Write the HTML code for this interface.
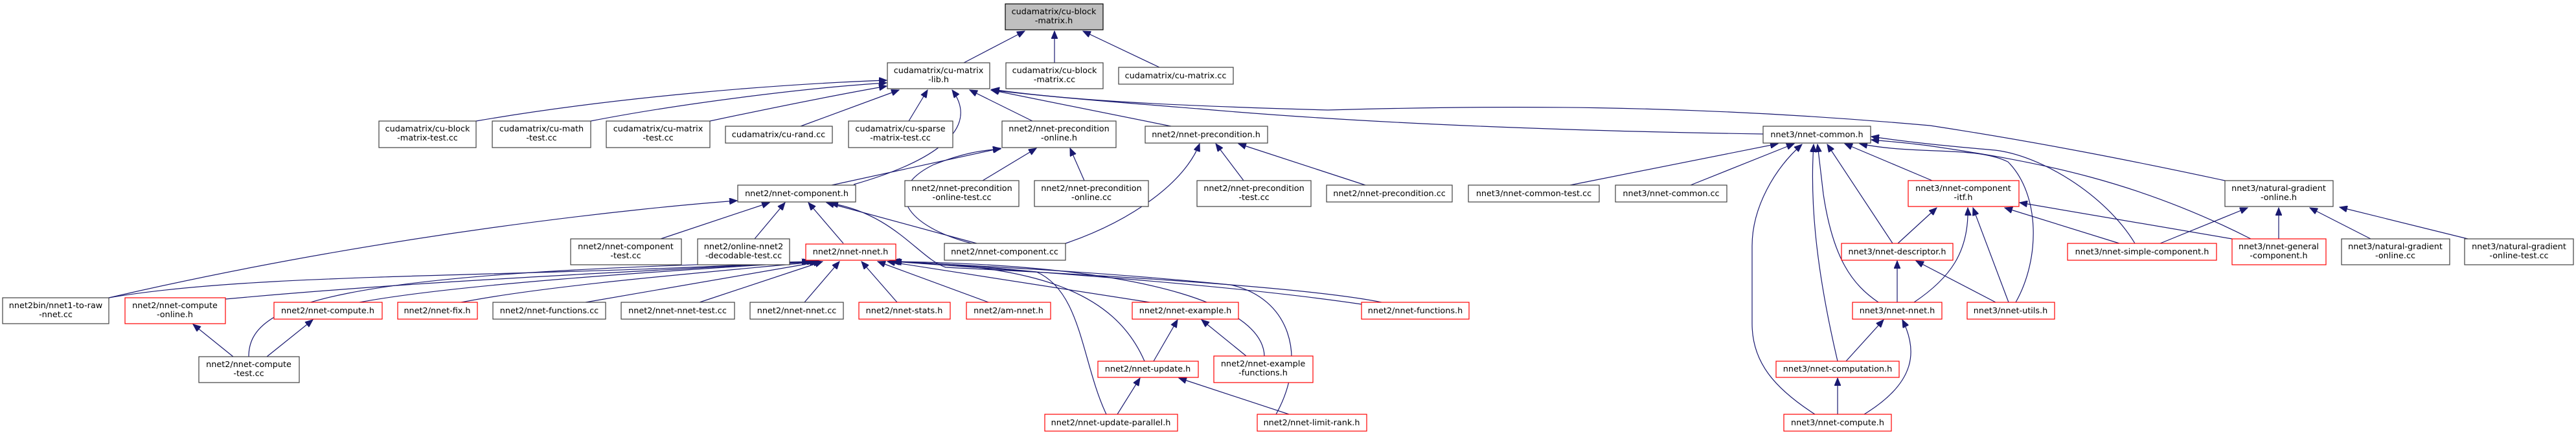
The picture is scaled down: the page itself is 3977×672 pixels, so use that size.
<!DOCTYPE html>
<html><head><meta charset="utf-8"><style>
html,body{margin:0;padding:0;background:#fff;}
svg{display:block;}
text{font-family:"DejaVu Sans","Liberation Sans",sans-serif;font-size:12.8px;fill:#000;text-anchor:middle;}
.b{fill:#fff;stroke:#404040;stroke-width:1.2;}
.r{fill:#fff;stroke:#ff0000;stroke-width:1.2;}
.g{fill:#bfbfbf;stroke:#000;stroke-width:1.2;}
path{fill:none;stroke:#191970;stroke-width:1.2;marker-end:url(#a);}
</style></head><body>
<svg width="3977" height="672" viewBox="0 0 3977 672" xmlns="http://www.w3.org/2000/svg">
<defs><marker id="a" markerUnits="userSpaceOnUse" markerWidth="13" markerHeight="10" refX="12" refY="5" orient="auto"><polygon points="0,0 12,5 0,10" fill="#191970" stroke="#191970"/></marker></defs>

<!-- edges -->
<path d="M1488,97 L1582,48"/>
<path d="M1628,97 L1628,48"/>
<path d="M1790,104 L1672,48"/>
<path d="M735,187 C950,150 1200,130 1369,124"/>
<path d="M912,187 C1050,160 1250,135 1369,128"/>
<path d="M1096,187 C1200,165 1300,145 1369,133"/>
<path d="M1236,195 L1388,139"/>
<path d="M1403,187 L1432,139"/>
<path d="M1318,285 C1440,250 1515,200 1470,139"/>
<path d="M1594,187 L1497,139"/>
<path d="M1808,195 L1530,139"/>
<path d="M2722,207 C2400,202 2100,190 1850,168 C1750,160 1620,150 1530,139"/>
<path d="M3435,279 C3300,250 3150,220 2980,194 C2600,160 2300,163 2050,170 C1800,163 1650,155 1531,138"/>
<path d="M168,460 C600,360 1000,320 1138,310"/>
<path d="M1020,369 L1188,313"/>
<path d="M1165,369 L1212,313"/>
<path d="M1302,376 L1248,313"/>
<path d="M1508,376 L1276,313"/>
<path d="M1284,286 L1545,229"/>
<path d="M1500,376 C1400,350 1360,295 1440,255 C1490,235 1520,232 1545,230"/>
<path d="M1645,376 C1750,340 1830,280 1852,222"/>
<path d="M1517,279 L1600,229"/>
<path d="M1674,279 L1652,229"/>
<path d="M1920,279 L1877,222"/>
<path d="M2108,286 L1912,222"/>
<path d="M2133,467 C2000,440 1600,420 1460,413 C1420,400 1380,330 1282,314"/>
<path d="M168,460 C400,420 800,430 1250,404"/>
<path d="M348,462 C700,430 1000,420 1252,404"/>
<path d="M384,551 C384,470 500,420 1258,404"/>
<path d="M555,467 C700,440 1000,420 1262,404"/>
<path d="M712,467 C850,440 1100,420 1265,404"/>
<path d="M904,467 L1268,404"/>
<path d="M1080,467 L1270,404"/>
<path d="M1242,467 L1296,404"/>
<path d="M1385,467 L1330,404"/>
<path d="M1526,467 L1355,404"/>
<path d="M1775,467 L1370,404"/>
<path d="M1767,558 C1720,450 1600,410 1376,404"/>
<path d="M1708,640 C1670,560 1670,450 1600,420 C1500,410 1420,405 1376,404"/>
<path d="M1952,550 C1950,480 1800,410 1378,404"/>
<path d="M1970,640 C2020,550 1990,460 1900,440 C1700,420 1500,410 1378,404"/>
<path d="M2102,470 C1900,440 1600,420 1380,404"/>
<path d="M360,551 L298,501"/>
<path d="M412,551 L483,494"/>
<path d="M1781,558 L1818,494"/>
<path d="M1924,550 L1855,494"/>
<path d="M1725,640 L1760,584"/>
<path d="M1990,640 L1820,584"/>
<path d="M2424,286 L2745,222"/>
<path d="M2610,286 L2770,222"/>
<path d="M2802,640 C2740,600 2705,560 2705,500 L2705,380 C2705,320 2740,260 2782,223"/>
<path d="M2837,558 C2800,400 2795,300 2800,223"/>
<path d="M2900,467 C2860,440 2830,400 2815,300 L2806,223"/>
<path d="M2922,376 L2821,223"/>
<path d="M2983,279 L2848,222"/>
<path d="M3296,376 C3250,300 3150,240 3080,232 C3000,225 2950,220 2889,211"/>
<path d="M3475,369 C3300,280 3150,250 2977,225 C2940,220 2910,218 2889,216"/>
<path d="M3112,467 C3150,400 3150,300 3100,250 C3050,225 2960,240 2871,222"/>
<path d="M2930,376 L2990,321"/>
<path d="M2955,467 C3010,430 3040,390 3038,321"/>
<path d="M3101,467 L3046,321"/>
<path d="M3272,376 L3095,321"/>
<path d="M3446,369 L3118,313"/>
<path d="M2929,467 L2929,403"/>
<path d="M3081,467 L2958,403"/>
<path d="M2850,558 L2908,494"/>
<path d="M2878,640 C2960,590 2960,540 2937,494"/>
<path d="M2837,640 L2837,584"/>
<path d="M3335,376 L3470,321"/>
<path d="M3518,369 L3518,321"/>
<path d="M3660,369 L3566,321"/>
<path d="M3810,369 L3612,320"/>

<!-- nodes -->
<rect class="g" x="1552" y="6" width="151" height="40"/><text x="1627" y="22">cudamatrix/cu-block</text><text x="1627" y="36">-matrix.h</text>
<rect class="b" x="1370" y="97" width="158" height="40"/><text x="1449" y="113">cudamatrix/cu-matrix</text><text x="1449" y="127">-lib.h</text>
<rect class="b" x="1553" y="97" width="150" height="40"/><text x="1628" y="113">cudamatrix/cu-block</text><text x="1628" y="127">-matrix.cc</text>
<rect class="b" x="1727" y="104" width="177" height="26"/><text x="1815" y="121">cudamatrix/cu-matrix.cc</text>
<rect class="b" x="585" y="187" width="150" height="41"/><text x="660" y="203">cudamatrix/cu-block</text><text x="660" y="217">-matrix-test.cc</text>
<rect class="b" x="760" y="187" width="152" height="41"/><text x="836" y="203">cudamatrix/cu-math</text><text x="836" y="217">-test.cc</text>
<rect class="b" x="936" y="187" width="160" height="41"/><text x="1016" y="203">cudamatrix/cu-matrix</text><text x="1016" y="217">-test.cc</text>
<rect class="b" x="1120" y="195" width="165" height="26"/><text x="1202" y="212">cudamatrix/cu-rand.cc</text>
<rect class="b" x="1310" y="187" width="161" height="41"/><text x="1390" y="203">cudamatrix/cu-sparse</text><text x="1390" y="217">-matrix-test.cc</text>
<rect class="b" x="1547" y="187" width="176" height="41"/><text x="1635" y="203">nnet2/nnet-precondition</text><text x="1635" y="217">-online.h</text>
<rect class="b" x="1768" y="195" width="189" height="26"/><text x="1862" y="212">nnet2/nnet-precondition.h</text>
<rect class="b" x="2722" y="195" width="166" height="26"/><text x="2805" y="212">nnet3/nnet-common.h</text>
<rect class="b" x="1139" y="286" width="182" height="26"/><text x="1230" y="303">nnet2/nnet-component.h</text>
<rect class="b" x="1397" y="279" width="176" height="40"/><text x="1485" y="295">nnet2/nnet-precondition</text><text x="1485" y="309">-online-test.cc</text>
<rect class="b" x="1597" y="279" width="176" height="40"/><text x="1685" y="295">nnet2/nnet-precondition</text><text x="1685" y="309">-online.cc</text>
<rect class="b" x="1848" y="279" width="176" height="40"/><text x="1936" y="295">nnet2/nnet-precondition</text><text x="1936" y="309">-test.cc</text>
<rect class="b" x="2048" y="286" width="194" height="26"/><text x="2145" y="303">nnet2/nnet-precondition.cc</text>
<rect class="b" x="2267" y="286" width="202" height="26"/><text x="2368" y="303">nnet3/nnet-common-test.cc</text>
<rect class="b" x="2494" y="286" width="172" height="26"/><text x="2580" y="303">nnet3/nnet-common.cc</text>
<rect class="r" x="2946" y="279" width="171" height="40"/><text x="3031" y="295">nnet3/nnet-component</text><text x="3031" y="309">-itf.h</text>
<rect class="b" x="3435" y="279" width="167" height="40"/><text x="3518" y="295">nnet3/natural-gradient</text><text x="3518" y="309">-online.h</text>
<rect class="b" x="881" y="369" width="171" height="40"/><text x="966" y="385">nnet2/nnet-component</text><text x="966" y="399">-test.cc</text>
<rect class="b" x="1077" y="369" width="142" height="40"/><text x="1148" y="385">nnet2/online-nnet2</text><text x="1148" y="399">-decodable-test.cc</text>
<rect class="r" x="1244" y="377" width="139" height="25"/><text x="1313" y="393">nnet2/nnet-nnet.h</text>
<rect class="b" x="1458" y="376" width="187" height="26"/><text x="1551" y="393">nnet2/nnet-component.cc</text>
<rect class="r" x="2843" y="376" width="172" height="26"/><text x="2929" y="393">nnet3/nnet-descriptor.h</text>
<rect class="r" x="3192" y="376" width="230" height="26"/><text x="3307" y="393">nnet3/nnet-simple-component.h</text>
<rect class="r" x="3446" y="369" width="145" height="40"/><text x="3518" y="385">nnet3/nnet-general</text><text x="3518" y="399">-component.h</text>
<rect class="b" x="3615" y="369" width="167" height="40"/><text x="3698" y="385">nnet3/natural-gradient</text><text x="3698" y="399">-online.cc</text>
<rect class="b" x="3805" y="369" width="168" height="40"/><text x="3889" y="385">nnet3/natural-gradient</text><text x="3889" y="399">-online-test.cc</text>
<rect class="b" x="4" y="460" width="164" height="40"/><text x="86" y="476">nnet2bin/nnet1-to-raw</text><text x="86" y="490">-nnet.cc</text>
<rect class="r" x="193" y="460" width="155" height="40"/><text x="270" y="476">nnet2/nnet-compute</text><text x="270" y="490">-online.h</text>
<rect class="r" x="423" y="467" width="167" height="26"/><text x="506" y="484">nnet2/nnet-compute.h</text>
<rect class="r" x="614" y="467" width="123" height="26"/><text x="675" y="484">nnet2/nnet-fix.h</text>
<rect class="b" x="761" y="467" width="174" height="26"/><text x="848" y="484">nnet2/nnet-functions.cc</text>
<rect class="b" x="959" y="467" width="175" height="26"/><text x="1046" y="484">nnet2/nnet-nnet-test.cc</text>
<rect class="b" x="1158" y="467" width="144" height="26"/><text x="1230" y="484">nnet2/nnet-nnet.cc</text>
<rect class="r" x="1326" y="467" width="141" height="26"/><text x="1396" y="484">nnet2/nnet-stats.h</text>
<rect class="r" x="1492" y="467" width="130" height="26"/><text x="1557" y="484">nnet2/am-nnet.h</text>
<rect class="r" x="1748" y="467" width="164" height="26"/><text x="1830" y="484">nnet2/nnet-example.h</text>
<rect class="r" x="2102" y="467" width="166" height="26"/><text x="2185" y="484">nnet2/nnet-functions.h</text>
<rect class="r" x="2860" y="467" width="138" height="26"/><text x="2929" y="484">nnet3/nnet-nnet.h</text>
<rect class="r" x="3037" y="467" width="135" height="26"/><text x="3104" y="484">nnet3/nnet-utils.h</text>
<rect class="b" x="307" y="551" width="155" height="40"/><text x="384" y="567">nnet2/nnet-compute</text><text x="384" y="581">-test.cc</text>
<rect class="r" x="1695" y="558" width="155" height="25"/><text x="1772" y="574">nnet2/nnet-update.h</text>
<rect class="r" x="1874" y="550" width="153" height="41"/><text x="1950" y="566">nnet2/nnet-example</text><text x="1950" y="580">-functions.h</text>
<rect class="r" x="2742" y="558" width="190" height="25"/><text x="2837" y="574">nnet3/nnet-computation.h</text>
<rect class="r" x="1613" y="640" width="205" height="26"/><text x="1715" y="657">nnet2/nnet-update-parallel.h</text>
<rect class="r" x="1941" y="640" width="169" height="26"/><text x="2025" y="657">nnet2/nnet-limit-rank.h</text>
<rect class="r" x="2754" y="640" width="166" height="26"/><text x="2837" y="657">nnet3/nnet-compute.h</text>
</svg>
</body></html>
